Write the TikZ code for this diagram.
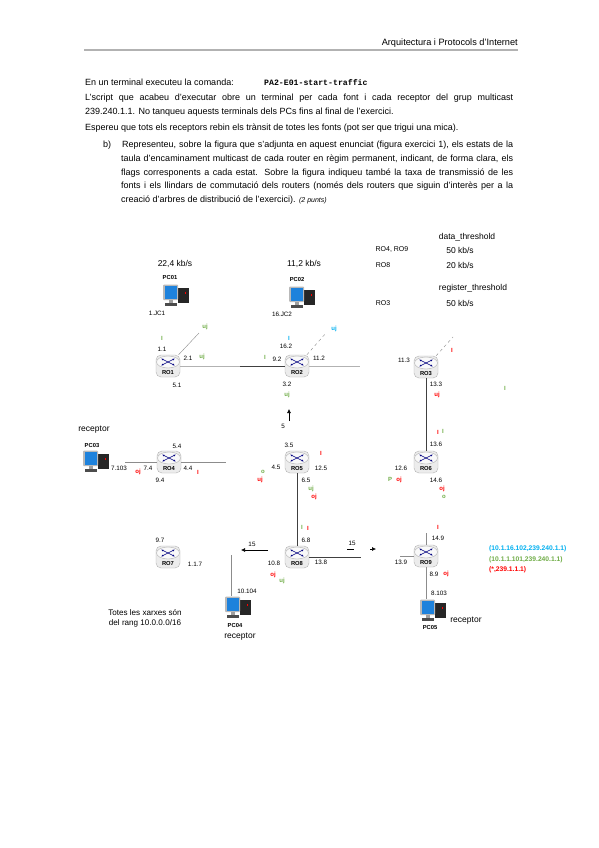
\documentclass[tikz,border=0pt]{standalone}
\usepackage{fontspec}
\setmainfont{Liberation Sans}
\setmonofont{Liberation Mono}
\usepackage{xcolor}
\usetikzlibrary{arrows.meta,positioning,calc}
\definecolor{srcblue}{RGB}{0,176,240}
\definecolor{srcgreen}{RGB}{112,173,71}
\definecolor{srcred}{RGB}{255,0,0}
\definecolor{monblue}{RGB}{30,130,220}
\definecolor{halfgray}{gray}{0.55}
\newcommand{\jline}[1]{\makebox[428pt][s]{#1}}
\newcommand{\kline}[1]{\makebox[392pt][s]{#1}}
\newcommand{\routermark}[1]{%
  \begin{scope}[shift={(#1.center)}]
    \draw[gray!60,fill=gray!5] (0,-4) ellipse [x radius=11.5pt,y radius=6pt];
    \draw[crossln] (-7,-7.5) -- (7,-0.5);
    \draw[crossln] (-7,-0.5) -- (7,-7.5);
  \end{scope}}
\tikzset{
  bodyln/.style={anchor=base west,inner sep=0pt,font=\fontsize{9}{10}\selectfont},
  tlab/.style={inner sep=0pt,font=\fontsize{6.3}{7}\selectfont},
  hostlab/.style={inner sep=0pt,font=\bfseries\fontsize{5.8}{7}\selectfont},
  tablab/.style={inner sep=0pt,font=\fontsize{7}{8}\selectfont},
  ratelab/.style={inner sep=0pt,font=\fontsize{8.5}{10}\selectfont},
  flagG/.style={inner sep=0pt,text=srcgreen,font=\bfseries\fontsize{6}{7}\selectfont},
  flagB/.style={inner sep=0pt,text=srcblue,font=\bfseries\fontsize{6}{7}\selectfont},
  flagR/.style={inner sep=0pt,text=srcred,font=\bfseries\fontsize{6}{7}\selectfont},
  legfont/.style={anchor=west,font=\bfseries\fontsize{6.7}{8}\selectfont},
  link/.style={thick,black!75},
  linkgray/.style={thick,halfgray},
  linkthin/.style={thin,halfgray},
  flow/.style={-{Latex[length=4pt,width=4pt]},semithick},
  crossln/.style={{Latex[length=2.5pt]}-{Latex[length=2.5pt]},blue!50!black,semithick},
  routerbox/.style={draw=gray!60,fill=gray!15,rounded corners=5pt,
    minimum width=24pt,minimum height=22pt,inner sep=1pt,text height=17pt,text depth=1pt,
    font=\bfseries\fontsize{5.8}{6}\selectfont},
  pcbox/.style={minimum width=26pt,minimum height=21pt,inner sep=0pt,
    path picture={
      \begin{scope}[shift={(path picture bounding box.center)}]
        \fill[black!85] (1.5,-7) rectangle (12.5,7.5);
        \fill[srcred] (8.5,-3) rectangle (10,-1.5);
        \fill[gray!55,rounded corners=1pt] (-13,-10.5) rectangle (2,5);
        \fill[monblue] (-11.5,-9) rectangle (0.5,3.5);
        \fill[gray!75] (-7.5,5) rectangle (-3,8);
        \fill[black!70] (-11,8) rectangle (1,10.5);
      \end{scope}
    }},
}
\begin{document}
\begin{tikzpicture}[x=1pt,y=-1pt]
  \useasboundingbox[fill=white] (0,0) rectangle (599,848);
  % capcalera
  \node[inner sep=0pt,anchor=base east,font=\fontsize{9.2}{10}\selectfont] (hdr) at (518,46) {Arquitectura i  Protocols d'Internet};
  \coordinate (ruleL) at (84,50);
  \coordinate (ruleR) at (518,50);
  \draw[gray!60,line width=1.3pt] (ruleL) -- (ruleR);
  % enunciat
  \node[bodyln] (t1) at (85,86) {En un terminal executeu la comanda:};
  \node[inner sep=0pt,anchor=base west,font=\ttfamily\bfseries\fontsize{8.2}{10}\selectfont] (cmd) at (264,86) {PA2-E01-start-traffic};
  \node[bodyln] (t2) at (85,101) {\jline{L'script que acabeu d'executar obre un terminal per cada font i cada receptor del grup multicast}};
  \node[bodyln] (t3) at (85,114) {239.240.1.1. No tanqueu aquests terminals dels PCs fins al final de l'exercici.};
  \node[bodyln] (t4) at (85,131) {Espereu que tots els receptors rebin els trànsit de totes les fonts (pot ser que trigui una mica).};
  \node[bodyln] (tb) at (103,147) {b)};
  \node[bodyln] (t5) at (122,147) {\makebox[391pt][s]{Representeu, sobre la figura que s'adjunta en aquest enunciat (figura exercici 1), els estats de la}};
  \node[bodyln] (t6) at (121,161) {\kline{taula d'encaminament multicast de cada router en règim permanent, indicant, de forma clara, els}};
  \node[bodyln] (t7) at (121,175) {\kline{flags corresponents a cada estat. Sobre la figura indiqueu també la taxa de transmissió de les}};
  \node[bodyln] (t8) at (121,188) {\kline{fonts i els llindars de commutació dels routers (només dels routers que siguin d'interès per a la}};
  \node[bodyln] (t9) at (121,202) {creació d'arbres de distribució de l'exercici).  \textit{\fontsize{7}{8}\selectfont (2 punts)}};
  % llindars
  \node[ratelab] (dth) at (467,237) {data\_threshold};
  \node[tablab] (th1) at (392,250) {RO4, RO9};
  \node[ratelab] (v1) at (460,250) {50 kb/s};
  \node[tablab] (th2) at (383,265) {RO8};
  \node[ratelab] (v2) at (460,265) {20 kb/s};
  \node[ratelab] (rth) at (473,288) {register\_threshold};
  \node[tablab] (th3) at (383,303) {RO3};
  \node[ratelab] (v3) at (460,303) {50 kb/s};
  % routers
  \node[routerbox] (ro1) at (168,366) {RO1};
  \node[routerbox] (ro2) at (297,366) {RO2};
  \node[routerbox] (ro3) at (426,367) {RO3};
  \node[routerbox] (ro4) at (169,462) {RO4};
  \node[routerbox] (ro5) at (297,462) {RO5};
  \node[routerbox] (ro6) at (426,462) {RO6};
  \node[routerbox] (ro7) at (168,557) {RO7};
  \node[routerbox] (ro8) at (297,557) {RO8};
  \node[routerbox] (ro9) at (426,556) {RO9};
  % PCs
  \node[pcbox] (pc1) at (176,295) {};
  \node[pcbox] (pc2) at (302,297) {};
  \node[pcbox] (pc3) at (96,461) {};
  \node[pcbox] (pc4) at (238,607) {};
  \node[pcbox] (pc5) at (433,610) {};
  \node[hostlab] (npc1) at (170,278) {PC01};
  \node[hostlab] (npc2) at (297,280) {PC02};
  \node[hostlab] (npc3) at (92,446) {PC03};
  \node[hostlab] (npc4) at (235,625) {PC04};
  \node[hostlab] (npc5) at (430,627) {PC05};
  % connexions
  \coordinate (a1) at (199,333);
  \coordinate (a2) at (326,333);
  \coordinate (a3) at (453,337);
  \coordinate (m12) at (240,366);
  \coordinate (e2) at (360,366);
  \coordinate (w4) at (125,462);
  \coordinate (e4) at (226,462);
  \coordinate (e8) at (361,557);
  \coordinate (w9) at (400,556);
  \coordinate (n9) at (426,533);
  \draw[linkthin] (ro1) -- (a1);
  \draw[linkthin,dashed] (ro2) -- (a2);
  \draw[linkthin,dashed] (ro3) -- (a3);
  \draw[linkgray,gray!60] (ro1.east) -- (m12);
  \draw[link] (m12) -- (ro2.west);
  \draw[linkgray,gray!60] (ro2.east) -- (e2);
  \draw[link] (ro3) -- (ro6);
  \draw[linkthin] (w4) -- (ro4.west);
  \draw[linkthin] (ro4.east) -- (e4);
  \draw[link] (ro5) -- (ro8);
  \draw[link] (ro8.east) -- (e8);
  \draw[linkthin] (w9) -- (ro9.west);
  \draw[linkthin] (n9) -- (ro9.north);
  \draw[linkgray] (ro9.south) -- (ro9.south |- pc5.north);
  \coordinate (n4) at (231,555);
  \draw[linkgray] (n4) -- (n4 |- pc4.north);
  % marca dels routers
  \foreach \rr in {ro1,ro2,ro3,ro4,ro5,ro6,ro7,ro8,ro9}
    \routermark{\rr};
  % fletxes de cost
  \coordinate (h1) at (289,421);
  \coordinate (h2) at (289,409);
  \draw[flow] (h1) -- (h2);
  \coordinate (c1) at (268,550);
  \coordinate (c2) at (241,550);
  \draw[flow] (c1) -- (c2);
  \coordinate (c3) at (370,549);
  \coordinate (c4) at (376,549);
  \draw[flow] (c3) -- (c4);
  \coordinate (c5) at (347,549);
  \coordinate (c6) at (354,549);
  \draw[thin] (c5) -- (c6);
  \node[tlab] (k1) at (283,426) {5};
  \node[tlab] (k2) at (252,544) {15};
  \node[tlab] (k3) at (352,543) {15};
  % taxes
  \node[ratelab] (r1) at (175,264) {22,4 kb/s};
  \node[ratelab] (r2) at (304,264) {11,2 kb/s};
  % adreces
  \node[tlab] (i1) at (157,313) {1.JC1};
  \node[tlab] (i2) at (282,314) {16.JC2};
  \node[tlab] (i3) at (162,349) {1.1};
  \node[tlab] (i4) at (188,358) {2.1};
  \node[tlab] (i5) at (177,385) {5.1};
  \node[tlab] (i6) at (286,346) {16.2};
  \node[tlab] (i7) at (277,359) {9.2};
  \node[tlab] (i8) at (319,358) {11.2};
  \node[tlab] (i9) at (287,384) {3.2};
  \node[tlab] (i10) at (404,360) {11.3};
  \node[tlab] (i11) at (436,384) {13.3};
  \node[tlab] (i12) at (436,444) {13.6};
  \node[tlab] (i13) at (401,468) {12.6};
  \node[tlab] (i14) at (436,480) {14.6};
  \node[tlab] (i15) at (438,538) {14.9};
  \node[tlab] (i16) at (401,562) {13.9};
  \node[tlab] (i17) at (434,574) {8.9};
  \node[tlab] (i18) at (439,593) {8.103};
  \node[tlab] (i19) at (289,445) {3.5};
  \node[tlab] (i20) at (321,468) {12.5};
  \node[tlab] (i21) at (276,467) {4.5};
  \node[tlab] (i22) at (306,480) {6.5};
  \node[tlab] (i23) at (306,540) {6.8};
  \node[tlab] (i24) at (274,563) {10.8};
  \node[tlab] (i25) at (321,562) {13.8};
  \node[tlab] (i26) at (177,446) {5.4};
  \node[tlab] (i27) at (148,468) {7.4};
  \node[tlab] (i28) at (160,480) {9.4};
  \node[tlab] (i29) at (188,468) {4.4};
  \node[tlab] (i30) at (119,468) {7.103};
  \node[tlab] (i31) at (160,540) {9.7};
  \node[tlab] (i32) at (195,564) {1.1.7};
  \node[tlab] (i33) at (247,591) {10.104};
  % flags font 1
  \node[flagG] (g1) at (162,338) {I};
  \node[flagG] (g2) at (205,327) {uj};
  \node[flagG] (g3) at (202,357) {uj};
  \node[flagG] (g4) at (265,357) {I};
  \node[flagG] (g5) at (287,395) {uj};
  \node[flagG] (g6) at (505,388) {I};
  \node[flagG] (g7) at (443,431) {I};
  \node[flagG] (g8) at (390,479) {P};
  \node[flagG] (g9) at (444,497) {o};
  \node[flagG] (g10) at (311,489) {uj};
  \node[flagG] (g11) at (302,527) {I};
  \node[flagG] (g12) at (282,581) {uj};
  \node[flagG] (g13) at (263,472) {o};
  % flags font 2
  \node[flagB] (b1) at (289,338) {I};
  \node[flagB] (b2) at (334,329) {uj};
  % flags (*,G)
  \node[flagR] (f1) at (452,350) {I};
  \node[flagR] (f2) at (437,395) {uj};
  \node[flagR] (f3) at (438,432) {I};
  \node[flagR] (f4) at (399,480) {oj};
  \node[flagR] (f5) at (442,489) {oj};
  \node[flagR] (f6) at (438,527) {I};
  \node[flagR] (f7) at (446,574) {oj};
  \node[flagR] (f8) at (321,453) {I};
  \node[flagR] (f9) at (314,497) {oj};
  \node[flagR] (f10) at (308,528) {I};
  \node[flagR] (f11) at (273,575) {oj};
  \node[flagR] (f12) at (138,472) {oj};
  \node[flagR] (f13) at (198,472) {I};
  \node[flagR] (f14) at (260,480) {uj};
  % llegenda
  \node[flagB,legfont] (leg1) at (489,549) {(10.1.16.102,239.240.1.1)};
  \node[flagG,legfont] (leg2) at (489,560) {(10.1.1.101,239.240.1.1)};
  \node[flagR,legfont] (leg3) at (489,570) {(*,239.1.1.1)};
  % notes
  \node[ratelab] (n1) at (94,430) {receptor};
  \node[ratelab] (n2) at (240,637) {receptor};
  \node[ratelab] (n3) at (466,621) {receptor};
  \node[ratelab,align=center,font=\fontsize{8.1}{10}\selectfont] (n5) at (145,618) {Totes les xarxes són\\del rang 10.0.0.0/16};
\end{tikzpicture}
\end{document}
